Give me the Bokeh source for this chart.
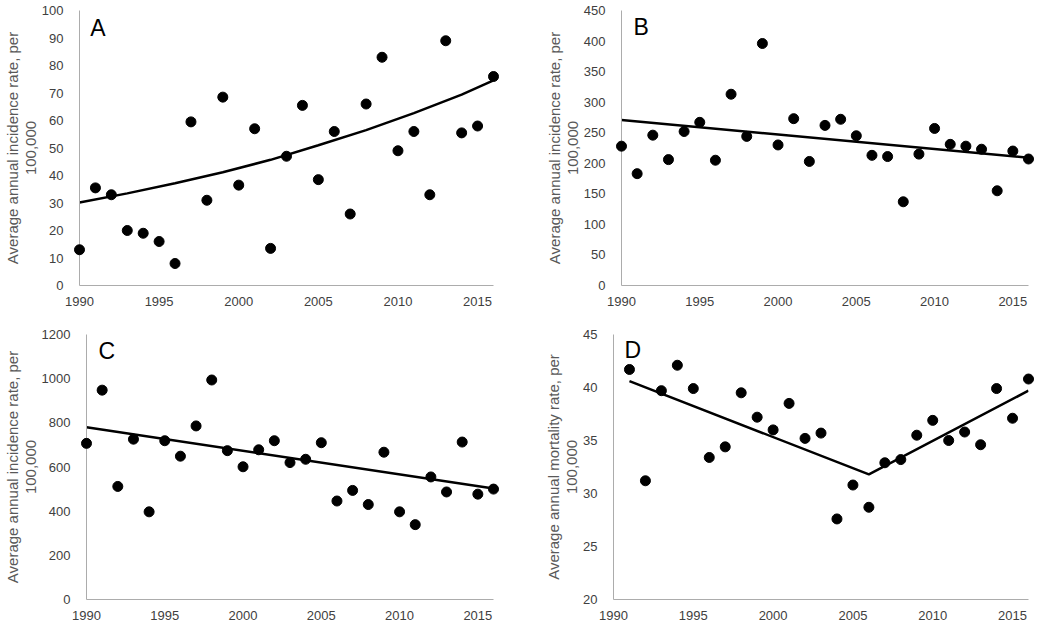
from bokeh.plotting import figure
from bokeh.layouts import column, row
from bokeh.models import FixedTicker, Label, Range1d
from bokeh.embed import file_html
from bokeh.resources import INLINE

years = list(range(1990, 2017))

# Panel A
a_vals = [13, 35.5, 33, 20, 19, 16, 8, 59.5, 31, 68.5, 36.5, 57, 13.5, 47, 65.5,
          38.5, 56, 26, 66, 83, 49, 56, 33, 89, 55.5, 58, 76]
a_trend_x = [1990, 1993, 1996, 1999, 2002, 2005, 2008, 2011, 2014, 2016]
a_trend_y = [30.2, 33.5, 37.2, 41.2, 45.7, 51.0, 56.5, 62.7, 69.4, 74.6]

# Panel B
b_vals = [228, 183, 246, 206, 252, 267, 205, 313, 244, 396, 230, 273, 203, 262, 272,
          245, 213, 211, 137, 215, 257, 231, 228, 223, 155, 220, 207]
b_trend_x = [1990, 2016]
b_trend_y = [271, 209]

# Panel C
c_vals = [707, 948, 512, 726, 397, 719, 649, 786, 994, 674, 601, 678, 719, 620, 635,
          710, 446, 494, 430, 667, 397, 339, 555, 487, 713, 477, 500]
c_trend_x = [1990, 2016]
c_trend_y = [780, 503]

# Panel D
d_years = list(range(1991, 2017))
d_vals = [41.7, 31.2, 39.7, 42.1, 39.9, 33.4, 34.4, 39.5, 37.2, 36.0, 38.5, 35.2, 35.7,
          27.6, 30.8, 28.7, 32.9, 33.2, 35.5, 36.9, 35.0, 35.8, 34.6, 39.9, 37.1, 40.8]
d_trend_x = [1991, 2006, 2016]
d_trend_y = [40.6, 31.8, 39.7]

x_ticks = [1990, 1995, 2000, 2005, 2010, 2015]

FONT = "Liberation Sans"
TICK_TXT = "#404040"
LABEL_TXT = "#595959"
AXIS_COL = "#acacac"


def panel(xs, ys, tx, ty, y0, y1, ystep, letter, ylabel, w, h, bl, br, bt, bb, lx, ly):
    p = figure(width=w, height=h, output_backend="svg", toolbar_location=None,
               x_range=Range1d(1990, 2016), y_range=Range1d(y0, y1),
               min_border_left=bl, min_border_right=br, min_border_top=bt,
               min_border_bottom=bb)
    p.outline_line_color = None
    p.grid.visible = False
    p.xaxis.ticker = FixedTicker(ticks=x_ticks)
    p.yaxis.ticker = FixedTicker(ticks=list(range(y0, y1 + 1, ystep)))
    for ax in (p.xaxis, p.yaxis):
        ax.axis_line_color = AXIS_COL
        ax.axis_line_width = 1
        ax.major_tick_line_color = None
        ax.minor_tick_line_color = None
        ax.major_label_text_font = FONT
        ax.major_label_text_font_size = "13px"
        ax.major_label_text_color = TICK_TXT
    p.xaxis.major_label_standoff = 5
    p.yaxis.major_label_standoff = 10
    p.yaxis.axis_label = ylabel
    p.yaxis.axis_label_text_font = FONT
    p.yaxis.axis_label_text_font_size = "15px"
    p.yaxis.axis_label_text_line_height = 1.05
    p.yaxis.axis_label_text_font_style = "normal"
    p.yaxis.axis_label_text_color = LABEL_TXT
    p.yaxis.axis_label_standoff = 0
    p.line(tx, ty, line_color="black", line_width=2.5)
    r = p.scatter(xs, ys, size=10, color="black", marker="circle")
    r.level = "overlay"
    p.add_layout(Label(x=lx, y=ly, text=letter, text_font=FONT, text_font_size="23px",
                       text_color="black", text_baseline="top", text_align="left"))
    return p


lab_inc = "Average annual incidence rate, per\n100,000"
lab_mort = "Average annual mortality rate, per\n100,000"

pa = panel(years, a_vals, a_trend_x, a_trend_y, 0, 100, 10, "A", lab_inc,
           530, 308, 78, 37, 10, 23, 1990.68, 98.5)
pb = panel(years, b_vals, b_trend_x, b_trend_y, 0, 450, 50, "B", lab_inc,
           504, 308, 91, 6, 10, 23, 1990.77, 443.5)
pc = panel(years, c_vals, c_trend_x, c_trend_y, 0, 1200, 200, "C", lab_inc,
           530, 314, 86, 37, 26, 22, 1990.77, 1182)
pd_ = panel(d_years, d_vals, d_trend_x, d_trend_y, 20, 45, 5, "D", lab_mort,
            504, 314, 83, 6, 26, 22, 1990.69, 44.8)

layout = column(row(pa, pb), row(pc, pd_))
open("out.html", "w").write(file_html(layout, INLINE))
